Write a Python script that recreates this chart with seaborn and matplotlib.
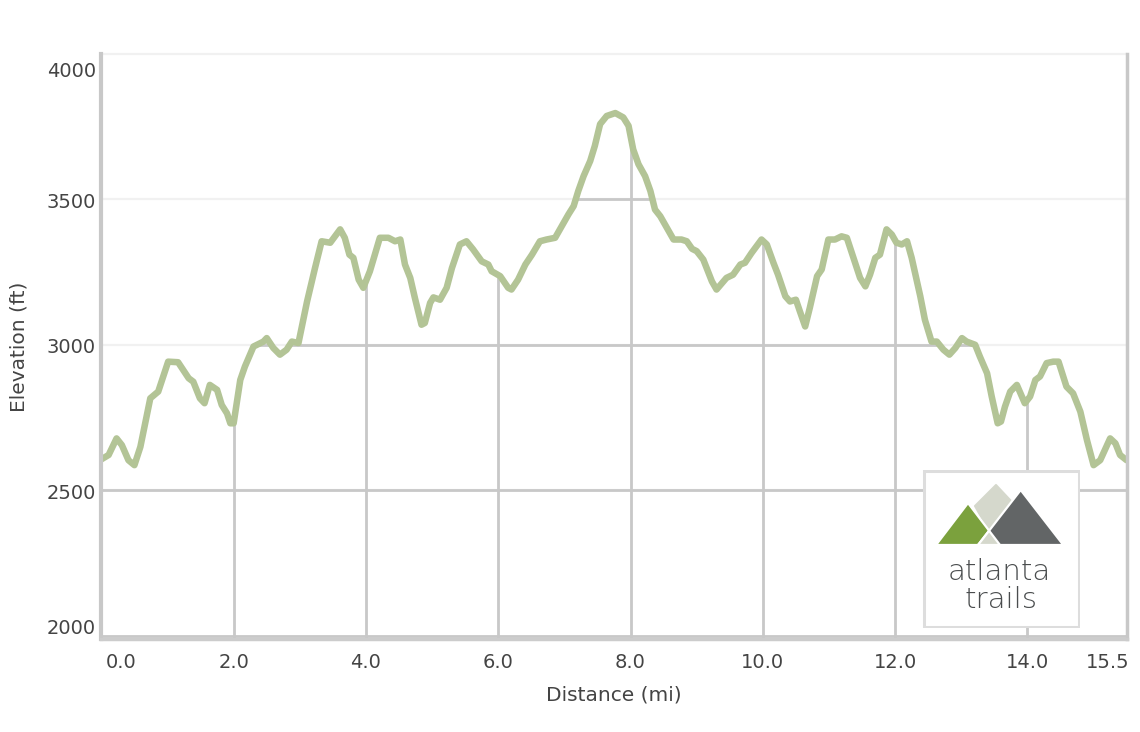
import matplotlib
matplotlib.use("Agg")
import matplotlib.pyplot as plt
import numpy as np
import pandas as pd
import seaborn as sns
from matplotlib.patches import Polygon, Rectangle, PathPatch
from matplotlib.transforms import ScaledTranslation

# ---------------- data ----------------
distance_mi = [
    0.00, 0.11, 0.23, 0.31, 0.41, 0.50, 0.59, 0.74, 0.86, 1.01,
    1.16, 1.32, 1.39, 1.49, 1.56, 1.64, 1.75, 1.82, 1.90, 1.95,
    2.00, 2.10, 2.17, 2.30, 2.45, 2.50, 2.60, 2.70, 2.80, 2.88,
    2.98, 3.11, 3.23, 3.33, 3.46, 3.61, 3.68, 3.75, 3.81, 3.89,
    3.96, 4.06, 4.21, 4.34, 4.44, 4.52, 4.59, 4.67, 4.74, 4.84,
    4.89, 4.97, 5.02, 5.12, 5.22, 5.30, 5.42, 5.52, 5.62, 5.75,
    5.85, 5.90, 6.03, 6.15, 6.20, 6.30, 6.41, 6.51, 6.63, 6.73,
    6.86, 6.96, 7.06, 7.14, 7.21, 7.29, 7.39, 7.46, 7.54, 7.64,
    7.77, 7.89, 7.97, 8.04, 8.12, 8.22, 8.30, 8.37, 8.45, 8.55,
    8.65, 8.77, 8.85, 8.93, 9.00, 9.10, 9.23, 9.30, 9.45, 9.55,
    9.66, 9.73, 9.83, 9.98, 10.06, 10.16, 10.23, 10.34, 10.41, 10.50,
    10.56, 10.64, 10.71, 10.82, 10.89, 10.99, 11.09, 11.19, 11.27, 11.37,
    11.47, 11.55, 11.62, 11.70, 11.77, 11.87, 11.95, 12.02, 12.10, 12.18,
    12.25, 12.38, 12.45, 12.55, 12.63, 12.73, 12.82, 12.91, 13.01, 13.08,
    13.21, 13.28, 13.39, 13.46, 13.55, 13.60, 13.66, 13.74, 13.84, 13.96,
    14.04, 14.12, 14.19, 14.29, 14.39, 14.47, 14.59, 14.69, 14.80, 14.90,
    15.00, 15.10, 15.25, 15.33, 15.40, 15.50,
]
elevation_ft = [
    2606, 2621, 2678, 2655, 2603, 2586, 2649, 2816, 2839, 2942,
    2940, 2885, 2873, 2816, 2799, 2862, 2845, 2793, 2764, 2730,
    2730, 2879, 2925, 2994, 3011, 3023, 2989, 2966, 2983, 3011,
    3006, 3149, 3264, 3356, 3351, 3397, 3368, 3310, 3299, 3224,
    3196, 3253, 3368, 3368, 3356, 3362, 3276, 3230, 3161, 3069,
    3075, 3144, 3163, 3155, 3196, 3264, 3345, 3356, 3328, 3287,
    3276, 3253, 3236, 3196, 3190, 3224, 3276, 3310, 3356, 3362,
    3368, 3408, 3448, 3477, 3529, 3580, 3632, 3684, 3759, 3787,
    3797, 3782, 3753, 3672, 3621, 3580, 3529, 3465, 3442, 3402,
    3362, 3362, 3356, 3330, 3322, 3293, 3218, 3190, 3230, 3241,
    3276, 3282, 3316, 3362, 3345, 3282, 3241, 3167, 3149, 3155,
    3115, 3063, 3127, 3236, 3259, 3362, 3362, 3373, 3368, 3299,
    3230, 3201, 3241, 3299, 3310, 3397, 3379, 3351, 3345, 3356,
    3299, 3167, 3086, 3011, 3011, 2983, 2966, 2989, 3023, 3011,
    3000, 2960, 2902, 2822, 2730, 2736, 2787, 2839, 2862, 2799,
    2822, 2879, 2891, 2937, 2942, 2942, 2856, 2833, 2770, 2672,
    2586, 2603, 2678, 2661, 2621, 2603,
]
assert len(distance_mi) == len(elevation_ft)

x_ticks = [0, 2, 4, 6, 8, 10, 12, 14, 15.5]
x_tick_labels = ["0.0", "2.0", "4.0", "6.0", "8.0", "10.0", "12.0", "14.0", "15.5"]
y_ticks = [2000, 2500, 3000, 3500, 4000]
y_tick_labels = ["2000", "2500", "3000", "3500", "4000"]
x_label = "Distance (mi)"
y_label = "Elevation (ft)"
logo_line1 = "atlanta"
logo_line2 = "trails"

# ---------------- style ----------------
sns.set_style("white")
plt.rcParams["font.family"] = ["DejaVu Sans"]

TEXT = "#444444"
GRID_DARK = "#c8c8c8"
GRID_LIGHT = "#f1f1f1"
LINE = "#b3c496"
Y_MIN = 1988

fig = plt.figure(figsize=(11.4, 7.32), dpi=100)
ax = fig.add_axes([0.0889, 0.1270, 0.8994, 0.7992])
ax.set_facecolor("white")
ax.set_xlim(0, 15.5)
ax.set_ylim(Y_MIN, 4000)

# light grid everywhere
for y in y_ticks[1:]:
    ax.axhline(y, color=GRID_LIGHT, lw=1.6, zorder=1, clip_on=False)

# region under the profile -> clip path for the darker grid
fill = ax.fill_between(distance_mi, elevation_ft, Y_MIN, facecolor="none",
                       edgecolor="none", zorder=0)
clip = PathPatch(fill.get_paths()[0], transform=ax.transData,
                 facecolor="none", edgecolor="none")
ax.add_patch(clip)
for x in x_ticks[1:-1]:
    ln = ax.axvline(x, color=GRID_DARK, lw=2.0, zorder=2)
    ln.set_clip_path(clip)
for y in y_ticks[:-1]:
    ln = ax.axhline(y, color=GRID_DARK, lw=2.0, zorder=2)
    ln.set_clip_path(clip)

df = pd.DataFrame({"dist": distance_mi, "elev": elevation_ft})
sns.lineplot(data=df, x="dist", y="elev", ax=ax, color=LINE, lw=4.7,
             sort=False, estimator=None, zorder=3,
             solid_capstyle="round", solid_joinstyle="round")

# axes / ticks
ax.set_xticks(x_ticks, x_tick_labels)
ax.set_yticks(y_ticks, y_tick_labels)
ax.tick_params(axis="x", length=3, width=1.6, color=GRID_DARK, pad=7,
               labelsize=14, labelcolor=TEXT)
ax.tick_params(axis="y", length=0, pad=4, labelsize=14, labelcolor=TEXT)

for lab in ax.get_yticklabels():
    t = lab.get_text()
    dy = -1
    if t == "4000":
        dy = -15
    elif t == "2000":
        dy = 9
    lab.set_transform(lab.get_transform() +
                      ScaledTranslation(0, dy / 100, fig.dpi_scale_trans))
xl = ax.get_xticklabels()
xl[0].set_ha("left")
xl[0].set_transform(xl[0].get_transform() +
                    ScaledTranslation(4 / 100, 0, fig.dpi_scale_trans))
xl[-1].set_ha("right")
xl[-1].set_transform(xl[-1].get_transform() +
                     ScaledTranslation(3 / 100, 0, fig.dpi_scale_trans))

ax.set_xlabel(x_label, fontsize=14.5, color=TEXT)
ax.set_ylabel(y_label, fontsize=14.5, color=TEXT)
ax.xaxis.set_label_coords(0.5, -0.080)
ax.yaxis.set_label_coords(-0.071, 0.5)

ax.spines["top"].set_visible(False)
ax.spines["left"].set_color(GRID_DARK)
ax.spines["left"].set_linewidth(3.0)
ax.spines["right"].set_color(GRID_DARK)
ax.spines["right"].set_linewidth(2.5)
ax.spines["bottom"].set_color("#cccccc")
ax.spines["bottom"].set_linewidth(2.5)
for s in ax.spines.values():
    s.set_zorder(4)

# ---------------- logo ----------------
lg = fig.add_axes([922 / 1140, 1 - 628 / 732, 158 / 1140, 158 / 732])
lg.set_xlim(0, 158)
lg.set_ylim(158, 0)
lg.axis("off")
lg.add_patch(Rectangle((1.5, 1.5), 155, 155, facecolor="white",
                       edgecolor="#dddddd", lw=2.2))
LIGHT = "#d5d8cc"
GREEN = "#7ba13d"
DARK = "#626566"
lg.add_patch(Polygon([(74, 15), (89, 31), (67, 61), (53, 36)], closed=True,
                     facecolor=LIGHT, edgecolor=LIGHT, lw=1.5, joinstyle="round"))
lg.add_patch(Polygon([(14, 75), (46, 33), (78, 75)], closed=True,
                     facecolor=GREEN, edgecolor="white", lw=1.6))
lg.add_patch(Polygon([(56, 75), (98.7, 20), (141.3, 75)], closed=True,
                     facecolor=DARK, edgecolor="white", lw=1.6))
lg.add_patch(Polygon([(56, 75), (67.1, 60.7), (78, 75)], closed=True,
                     facecolor=LIGHT, edgecolor="white", lw=1.6))
lg.text(77.5, 110, logo_line1, ha="center", va="baseline", fontsize=21,
        color="#4a4d4e", fontweight="light")
lg.text(79, 138, logo_line2, ha="center", va="baseline", fontsize=21,
        color="#4a4d4e", fontweight="light")

fig.savefig("out.png", dpi=100, facecolor="white")
